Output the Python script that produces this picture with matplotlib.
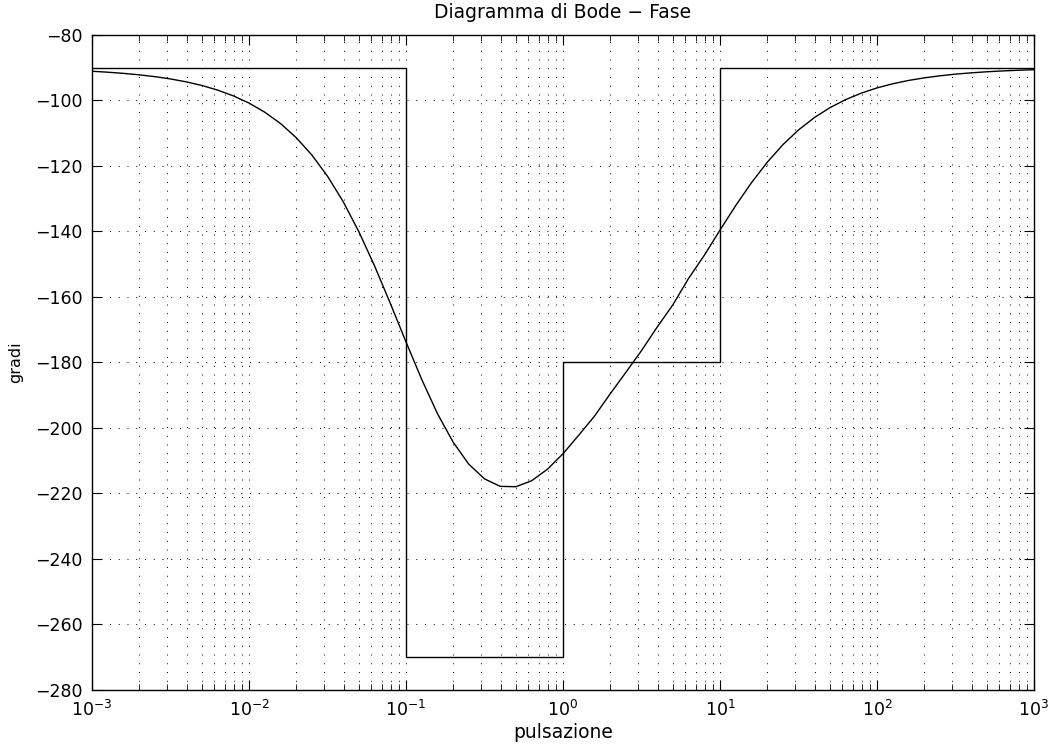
import matplotlib

matplotlib.use("Agg")
import matplotlib.pyplot as plt  # noqa: E402
import numpy as np  # noqa: E402
from matplotlib.ticker import LogLocator, NullFormatter  # noqa: E402

plt.rcParams["font.family"] = ["DejaVu Sans"]
plt.rcParams["mathtext.fontset"] = "dejavusans"

# phase, one sample every 0.1 decade from 1e-3 to 1e3
exponents = np.arange(-30, 31) / 10.0
phase_deg = [
    -91.08, -91.36, -91.72, -92.16, -92.72, -93.42, -94.31, -95.42, -96.82, -98.58,
    -100.79, -103.56, -107.01, -111.31, -116.62, -123.11, -130.89, -140.09, -150.53, -161.94,
    -173.72, -185.16, -195.59, -204.31, -211.06, -215.54, -217.82, -217.94, -216.12, -212.63,
    -207.87, -202.22, -196.42, -189.61, -183.04, -176.38, -169.18, -162.37, -154.32, -147.27,
    -139.57, -132.09, -125.14, -118.92, -113.52, -109.00, -105.26, -102.20, -99.74, -97.76,
    -96.16, -94.90, -93.89, -93.10, -92.47, -91.95, -91.56, -91.23, -90.98, -90.77,
    -90.61,
]

# asymptotic (straight-line) phase: corner frequencies and the level after each one
asym_w = [1e-3, 0.1, 1.0, 10.0, 1e3]
asym_phase = [-90, -270, -180, -90, -90]

decades = [-3, -2, -1, 0, 1, 2, 3]

fig = plt.figure(figsize=(10.49, 7.46), dpi=100)
ax = fig.add_axes([0.0877, 0.0751, 0.898, 0.878])

ax.step(asym_w, asym_phase, where="post", color="black", lw=1.0)
ax.plot(10.0 ** exponents, phase_deg, color="black", lw=1.0)

ax.set_xscale("log")
ax.set_xlim(1e-3, 1e3)
ax.set_ylim(-280, -80)
ax.set_yticks(np.arange(-280, -79, 20))
ax.set_xticks([10.0 ** d for d in decades], [f"$10^{{{d}}}$" for d in decades])
ax.xaxis.set_minor_locator(LogLocator(base=10, subs=np.arange(2, 10), numticks=100))
ax.xaxis.set_minor_formatter(NullFormatter())

dots = (0, (1, 8))
ax.grid(which="major", axis="both", linestyle=dots, color="black", lw=0.7)
ax.grid(which="minor", axis="x", linestyle=dots, color="black", lw=0.7)
ax.tick_params(which="both", direction="in", top=True, right=True, labelsize=12.5)
ax.tick_params(which="major", length=7)
ax.tick_params(which="minor", length=4)
ax.tick_params(axis="x", pad=7)
ax.tick_params(axis="y", pad=7)
for s in ax.spines.values():
    s.set_linewidth(1.0)

ax.set_title("Diagramma di Bode \u2212 Fase", fontsize=13.5, pad=12)
ax.set_xlabel("pulsazione", fontsize=13.5, labelpad=2)
ax.set_ylabel("gradi", fontsize=11.5, labelpad=8)

fig.savefig("out.png", dpi=100)
